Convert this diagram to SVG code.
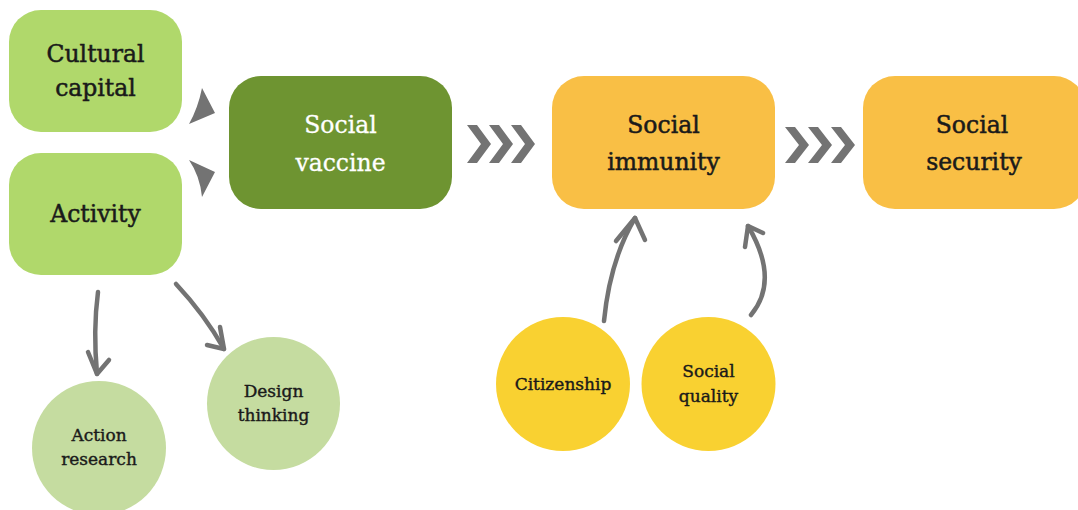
<svg xmlns="http://www.w3.org/2000/svg" width="1078" height="510" viewBox="0 0 1078 510">
<defs>
<style>
.t{font-family:"DejaVu Serif","Liberation Serif",serif;text-anchor:middle;fill:#1a1a1a;stroke:#1a1a1a;stroke-width:0.5px}
.w{fill:#ffffff;stroke:#ffffff;stroke-width:0.3px}
.big{font-size:23.5px}
.sm{font-size:17px;stroke-width:0.4px}
.lg{fill:#b0d86b}
.dg{fill:#6e9431}
.or{fill:#f9bf45}
.yc{fill:#f9d131}
.pg{fill:#c5dca0}
.ar{fill:none;stroke:#737373;stroke-width:4.5;stroke-linecap:round;stroke-linejoin:round}
.hd{fill:#737373}
</style>
</defs>
<rect width="1078" height="510" fill="#ffffff"/>
<g id="connectors">
<path class="hd" d="M202,88 L215,113 L189,124 Q198,108 202,88 Z"/>
<path class="hd" d="M189,160 L215,172 L202,197 Q200,176 189,160 Z"/>
<g id="chev1" class="hd">
<polygon points="467,125 477,125 491,144 477,163 467,163 481,144"/>
<polygon points="489,125 499,125 513,144 499,163 489,163 503,144"/>
<polygon points="511,125 521,125 535,144 521,163 511,163 525,144"/>
</g>
<g id="chev2" class="hd">
<polygon points="785,127 795,127 809,145 795,163 785,163 799,145"/>
<polygon points="808,127 818,127 832,145 818,163 808,163 822,145"/>
<polygon points="831,127 841,127 855,145 841,163 831,163 845,145"/>
</g>
<path class="ar" d="M98,292 Q93,330 97,374"/>
<path class="ar" d="M88,352 L97,374 L109,360"/>
<path class="ar" d="M176,284 Q205,315 224,349"/>
<path class="ar" d="M220,327 L224,349 L207,345"/>
<path class="ar" d="M604,321 Q610,260 635,218"/>
<path class="ar" d="M616,241 L635,218 L645,240"/>
<path class="ar" d="M751,315 Q780,280 748,226"/>
<path class="ar" d="M745,247 L748,226 L763,233"/>
</g>
<g id="cultural-capital">
<rect class="lg" x="9" y="10" width="173" height="122" rx="32"/>
<text class="t big" x="95.5" y="62">Cultural</text>
<text class="t big" x="95.5" y="96">capital</text>
</g>
<g id="activity">
<rect class="lg" x="9" y="153" width="173" height="122" rx="32"/>
<text class="t big" x="95.5" y="222">Activity</text>
</g>
<g id="social-vaccine">
<rect class="dg" x="229" y="76" width="223" height="133" rx="32"/>
<text class="t big w" x="340.5" y="133">Social</text>
<text class="t big w" x="340.5" y="171">vaccine</text>
</g>
<g id="social-immunity">
<rect class="or" x="552" y="76" width="223" height="133" rx="32"/>
<text class="t big" x="663.5" y="133">Social</text>
<text class="t big" x="663.5" y="170">immunity</text>
</g>
<g id="social-security">
<rect class="or" x="863" y="76" width="223" height="133" rx="32"/>
<text class="t big" x="972" y="133">Social</text>
<text class="t big" x="974" y="170">security</text>
</g>
<g id="action-research">
<circle class="pg" cx="99" cy="448" r="67"/>
<text class="t sm" x="99" y="441">Action</text>
<text class="t sm" x="99" y="465">research</text>
</g>
<g id="design-thinking">
<circle class="pg" cx="273.5" cy="403.5" r="66.5"/>
<text class="t sm" x="273.5" y="397">Design</text>
<text class="t sm" x="273.5" y="421">thinking</text>
</g>
<g id="citizenship">
<circle class="yc" cx="563" cy="384" r="67"/>
<text class="t sm" x="563" y="390">Citizenship</text>
</g>
<g id="social-quality">
<circle class="yc" cx="708.5" cy="384" r="67"/>
<text class="t sm" x="708.5" y="377">Social</text>
<text class="t sm" x="708.5" y="402">quality</text>
</g>
</svg>
